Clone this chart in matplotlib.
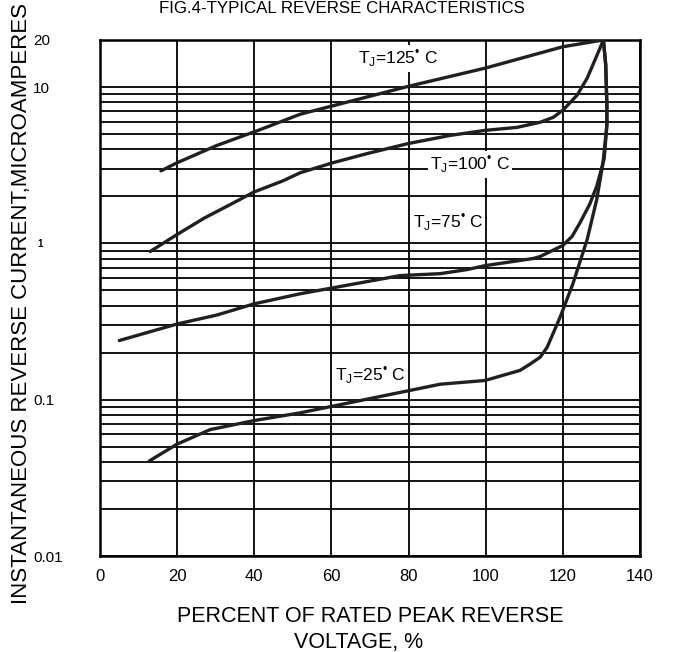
import matplotlib
matplotlib.use("Agg")
import matplotlib.pyplot as plt
from matplotlib.ticker import FixedLocator, LogLocator, NullFormatter
from matplotlib.transforms import ScaledTranslation

plt.rcParams['font.family'] = ['Liberation Sans', 'DejaVu Sans']
plt.rcParams['mathtext.fontset'] = 'custom'
plt.rcParams['mathtext.rm'] = 'Liberation Sans'

# percent of rated peak reverse voltage vs reverse current (uA)
x_125 = [15.8, 20.0, 30.3, 41.0, 51.9, 79.9, 99.8, 120.0, 130.5]
y_125 = [2.91, 3.28, 4.23, 5.28, 6.70, 10.1, 13.2, 18.1, 20.0]

x_100 = [13.0, 20.0, 27.0, 34.5, 39.9, 47.4, 51.9, 60.4, 69.2, 79.9, 90.7, 99.8,
         108.1, 114.1, 117.5, 120.0, 123.7, 126.3, 128.9, 130.5]
y_100 = [0.887, 1.14, 1.45, 1.81, 2.13, 2.51, 2.83, 3.28, 3.75, 4.35, 4.90, 5.28,
         5.52, 5.95, 6.40, 7.11, 8.88, 11.4, 16.1, 20.0]

x_75 = [5.0, 20.0, 30.3, 39.9, 51.9, 77.8, 88.2, 95.2, 99.8, 112.3, 114.1, 120.0,
        122.4, 124.4, 127.0, 128.8, 130.7, 131.4, 131.4, 131.1, 130.5]
y_75 = [0.239, 0.305, 0.348, 0.41, 0.476, 0.622, 0.64, 0.68, 0.72, 0.80, 0.824, 0.97,
        1.11, 1.35, 1.79, 2.33, 3.48, 5.69, 7.66, 13.9, 20.0]

x_25 = [12.8, 20.0, 28.5, 39.9, 51.9, 88.2, 99.8, 108.9, 111.5, 114.1, 115.9, 119.3,
        122.6, 126.3, 128.8, 130.4, 131.4, 131.4, 131.1, 130.5]
y_25 = [0.0406, 0.052, 0.0643, 0.0735, 0.0824, 0.1256, 0.1327, 0.154, 0.169, 0.187, 0.216,
        0.338, 0.552, 1.06, 1.92, 3.28, 5.69, 7.66, 13.9, 20.0]

x_ticks = [0, 20, 40, 60, 80, 100, 120, 140]
y_ticks = [0.01, 0.1, 1, 10, 20]
y_tick_labels = ['0.01', '0.1', '1', '10', '20']

labels = ['T$_\\mathregular{J}$=125$^\\mathregular{\u2022}$ C',
          'T$_\\mathregular{J}$=100$^\\mathregular{\u2022}$ C',
          'T$_\\mathregular{J}$=75$^\\mathregular{\u2022}$ C',
          'T$_\\mathregular{J}$=25$^\\mathregular{\u2022}$ C']
label_x = [77.3, 95.9, 90.2, 70.0]
label_y = [15.2, 3.2, 1.35, 0.143]

fig = plt.figure(figsize=(6.86, 6.52), dpi=100)
ax = fig.add_axes([0.1458, 0.1472, 0.933 - 0.1458, 0.9387 - 0.1472])
ax.set_yscale('log')
ax.set_xlim(0, 140)
ax.set_ylim(0.01, 20)

ax.xaxis.set_major_locator(FixedLocator(x_ticks))
ax.yaxis.set_major_locator(FixedLocator(y_ticks))
ax.yaxis.set_minor_locator(LogLocator(base=10, subs=range(2, 10)))
ax.yaxis.set_minor_formatter(NullFormatter())
ax.set_yticklabels(y_tick_labels)

ax.grid(True, which='major', axis='x', color='black', lw=1.3)
ax.grid(True, which='both', axis='y', color='black', lw=1.3)
ax.tick_params(which='both', length=0)
ax.tick_params(axis='x', pad=9, labelsize=12)
ax.tick_params(axis='y', pad=48, labelsize=11)
for lab in ax.get_yticklabels():
    lab.set_ha('left')
    if lab.get_text() == '1':
        # the "1" is printed small and a little further right
        lab.set_fontsize(7)
        lab.set_fontweight('bold')
        lab.set_transform(lab.get_transform() + ScaledTranslation(3 / 72, 0, fig.dpi_scale_trans))
for sp in ax.spines.values():
    sp.set_linewidth(1.8)

for xs, ys in [(x_125, y_125), (x_100, y_100), (x_75, y_75), (x_25, y_25)]:
    ax.plot(xs, ys, color='#231f20', lw=2.4, solid_capstyle='round', solid_joinstyle='round', zorder=3)

for t, lx, ly in zip(labels, label_x, label_y):
    ax.text(lx, ly, t, fontsize=12.5, ha='center', va='center', zorder=4,
            bbox=dict(facecolor='white', edgecolor='none', pad=1.5))

fig.text(0.4985, 0.987, 'FIG.4-TYPICAL REVERSE CHARACTERISTICS', ha='center', va='center', fontsize=12.2)
fig.text(0.031, 0.534, 'INSTANTANEOUS REVERSE CURRENT,MICROAMPERES', rotation=90,
         ha='center', va='center', fontsize=16)
fig.text(0.54, 0.0537, 'PERCENT OF RATED PEAK REVERSE', ha='center', va='center', fontsize=15.5)
fig.text(0.522, 0.0153, 'VOLTAGE, %', ha='center', va='center', fontsize=15.5)

fig.savefig('out.png', dpi=100)
